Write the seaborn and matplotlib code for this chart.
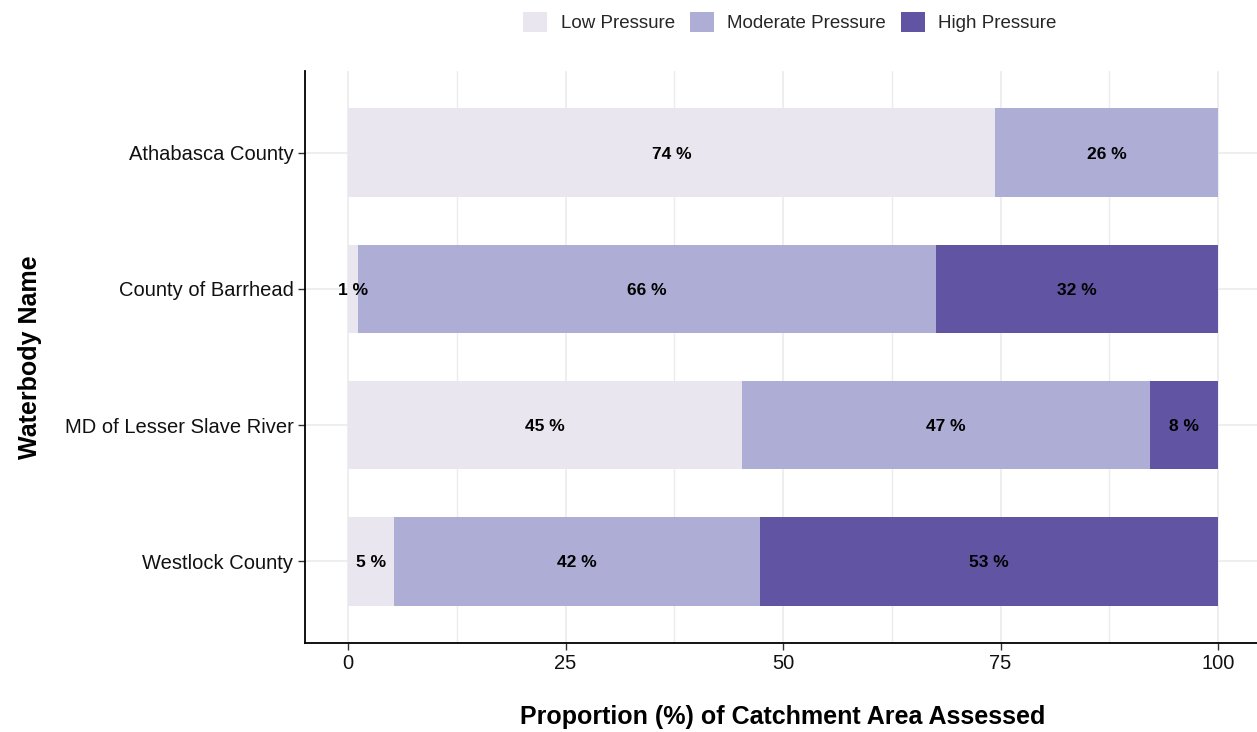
import numpy as np
import pandas as pd
import matplotlib
matplotlib.use("Agg")
import matplotlib.pyplot as plt
import seaborn as sns
from matplotlib.patches import Patch
from matplotlib.ticker import MultipleLocator

# Data (percent of catchment area per pressure class)
names = ["Athabasca County", "County of Barrhead", "MD of Lesser Slave River", "Westlock County"]
low = [74.4, 1.2, 45.3, 5.3]
moderate = [25.6, 66.4, 46.9, 42.0]
high = [0.0, 32.4, 7.8, 52.7]
classes = ["Low Pressure", "Moderate Pressure", "High Pressure"]
colors = ["#e9e6f0", "#aeadd5", "#6155a3"]

sns.set_theme(style="white")
plt.rcParams["font.family"] = ["Liberation Sans", "DejaVu Sans"]

df = pd.DataFrame({"name": names, "low": low, "moderate": moderate, "high": high})
df["c1"] = df["low"]
df["c2"] = df["low"] + df["moderate"]
df["c3"] = df["c2"] + df["high"]

fig = plt.figure(figsize=(12.57, 7.32), dpi=100)
W, H = 1257, 732
ax = fig.add_axes([304.5 / W, 1 - 643 / H, (1261.5 - 304.5) / W, (643 - 71) / H])

# stacked bars: draw cumulative totals from the back to the front
for col, c in zip(["c3", "c2", "c1"], colors[::-1]):
    sns.barplot(data=df, y="name", x=col, order=names, color=c, width=0.65,
                saturation=1, ax=ax, orient="h", zorder=2, linewidth=0, edgecolor="none")

# segment labels
for i, row in df.iterrows():
    start = 0
    for v in [row["low"], row["moderate"], row["high"]]:
        if v > 0:
            ax.text(start + v / 2, i + 0.012, f"{int(round(v))} %", ha="center", va="center",
                    fontsize=12.5, fontweight="bold", color="black", zorder=3)
        start += v

ax.set_xlim(-5, 105)
ax.set_ylim(3.6, -0.6)
ax.xaxis.set_major_locator(MultipleLocator(25))
ax.xaxis.set_minor_locator(MultipleLocator(12.5))
ax.grid(True, which="major", axis="both", color="#ebebeb", linewidth=1.2, zorder=0)
ax.grid(True, which="minor", axis="x", color="#ebebeb", linewidth=1.0, zorder=0)
ax.set_axisbelow(True)

for s in ["top", "right"]:
    ax.spines[s].set_visible(False)
for s in ["left", "bottom"]:
    ax.spines[s].set_color("black")
    ax.spines[s].set_linewidth(1.3)

ax.tick_params(axis="both", which="major", length=5, width=1, color="#333333",
               labelsize=14.5, labelcolor="#111111", pad=3, bottom=True, left=True)
ax.tick_params(axis="x", which="minor", length=0)

ax.set_xlabel("Proportion (%) of Catchment Area Assessed", fontsize=18,
              fontweight="bold", labelpad=23, color="black")
ax.set_ylabel("Waterbody Name", fontsize=18, fontweight="bold", labelpad=16, color="black")

handles = [Patch(facecolor=c, edgecolor="none", label=l) for c, l in zip(colors, classes)]
fig.legend(handles=handles, loc="center", bbox_to_anchor=(790 / W, 1 - 22 / H), ncol=3,
           frameon=False, fontsize=13.5, handlelength=1.3, handleheight=1.3,
           handletextpad=0.7, columnspacing=0.8)

fig.savefig("out.png", dpi=100)
